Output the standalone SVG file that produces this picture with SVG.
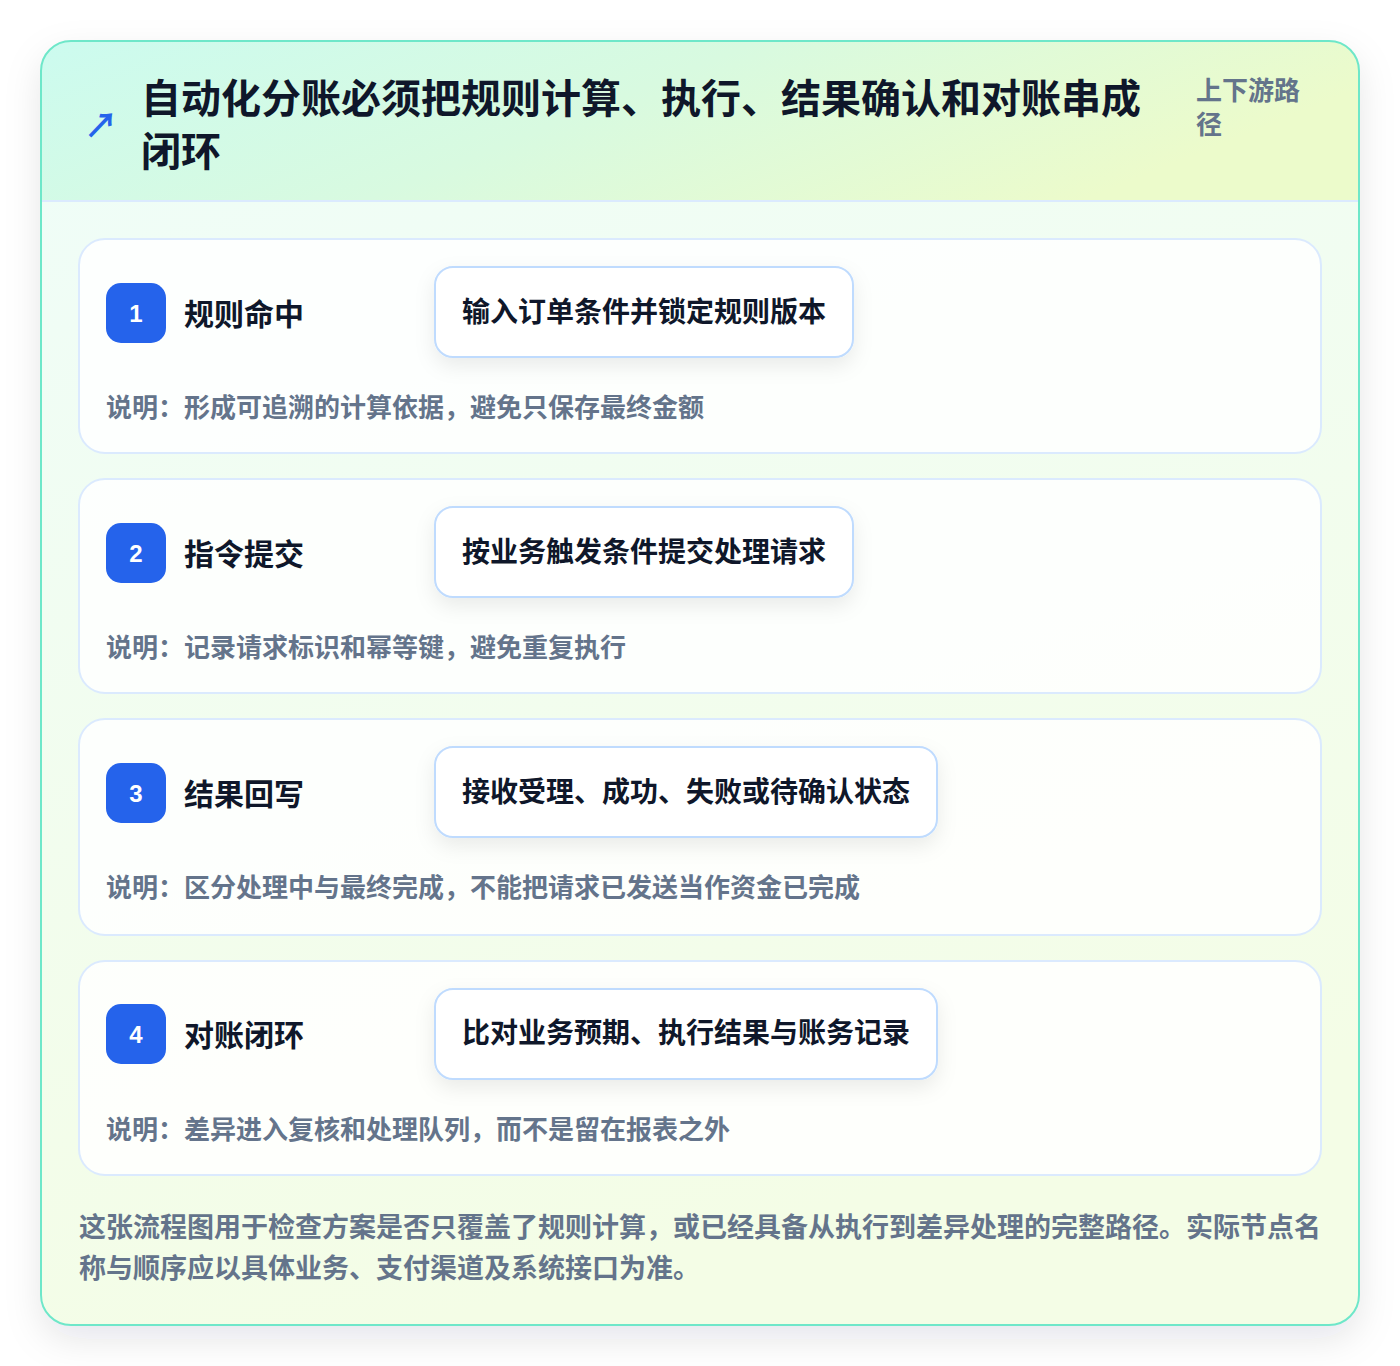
<svg xmlns="http://www.w3.org/2000/svg" width="1400" height="1366" viewBox="0 0 1400 1366">
<defs>
<linearGradient id="hdr" x1="0" y1="0" x2="1" y2="0.3">
<stop offset="0" stop-color="#ccfbef"/>
<stop offset="0.5" stop-color="#d8fae0"/>
<stop offset="1" stop-color="#ecfbcb"/>
</linearGradient>
<linearGradient id="body" x1="0" y1="0" x2="0.3" y2="1">
<stop offset="0" stop-color="#effdf9"/>
<stop offset="1" stop-color="#f4fde6"/>
</linearGradient>
<clipPath id="cardclip"><rect x="41" y="41" width="1318" height="1284" rx="30"/></clipPath>
<filter id="outerSh" x="-10%" y="-10%" width="120%" height="120%">
<feDropShadow dx="0" dy="14" stdDeviation="18" flood-color="#0f172a" flood-opacity="0.10"/>
</filter>
<filter id="boxSh" x="-20%" y="-40%" width="140%" height="200%">
<feDropShadow dx="0" dy="8" stdDeviation="10" flood-color="#0f172a" flood-opacity="0.08"/>
</filter>
<style>
.t{font-family:"Noto Sans CJK SC","Noto Sans",sans-serif;font-weight:700}
.title{font-size:40px;fill:#0f172a}
.sub{font-size:26px;fill:#64748b}
.card{fill:#ffffff;fill-opacity:0.85;stroke:#dbeafe;stroke-width:2}
.badge{fill:#2563eb}
.num{font-family:"Liberation Sans","Noto Sans",sans-serif;font-weight:700;font-size:24px;fill:#ffffff}
.lbl{font-size:30px;fill:#0f172a}
.box{fill:#ffffff;stroke:#bfdbfe;stroke-width:2}
.boxt{font-size:28px;fill:#0f172a}
.desc{font-size:26px;fill:#64748b}
.foot{font-size:27px;fill:#64748b}
</style>
</defs>
<rect width="1400" height="1366" fill="#ffffff"/>
<g id="frame">
<rect x="41" y="41" width="1318" height="1284" rx="30" fill="url(#body)" filter="url(#outerSh)"/>
<g clip-path="url(#cardclip)">
<rect x="41" y="41" width="1318" height="160" fill="url(#hdr)"/>
<line x1="41" y1="201" x2="1359" y2="201" stroke="#dbeafe" stroke-width="2"/>
</g>
<rect x="41" y="41" width="1318" height="1284" rx="30" fill="none" stroke="#6ee7c9" stroke-width="2"/>
</g>
<g id="header">
<text class="t" x="101" y="123" font-size="34" fill="#2563eb" text-anchor="middle" dominant-baseline="central">↗</text>
<text class="t title" x="141" y="96" dominant-baseline="central">自动化分账必须把规则计算、执行、结果确认和对账串成</text>
<text class="t title" x="141" y="149" dominant-baseline="central">闭环</text>
<text class="t sub" x="1196" y="88" dominant-baseline="central">上下游路</text>
<text class="t sub" x="1196" y="122" dominant-baseline="central">径</text>
</g>
<g id="connectors"></g>
<g id="step1">
<rect class="card" x="79" y="239" width="1242" height="214" rx="26"/>
<rect class="badge" x="106" y="283" width="60" height="60" rx="15"/>
<text class="num" x="136" y="313" text-anchor="middle" dominant-baseline="central">1</text>
<text class="t lbl" x="184" y="312" dominant-baseline="central">规则命中</text>
<rect class="box" x="435" y="267" width="418" height="90" rx="18" filter="url(#boxSh)"/>
<text class="t boxt" x="644" y="310" text-anchor="middle" dominant-baseline="central">输入订单条件并锁定规则版本</text>
<text class="t desc" x="106" y="405" dominant-baseline="central">说明：形成可追溯的计算依据，避免只保存最终金额</text>
</g>
<g id="step2">
<rect class="card" x="79" y="479" width="1242" height="214" rx="26"/>
<rect class="badge" x="106" y="523" width="60" height="60" rx="15"/>
<text class="num" x="136" y="553" text-anchor="middle" dominant-baseline="central">2</text>
<text class="t lbl" x="184" y="552" dominant-baseline="central">指令提交</text>
<rect class="box" x="435" y="507" width="418" height="90" rx="18" filter="url(#boxSh)"/>
<text class="t boxt" x="644" y="550" text-anchor="middle" dominant-baseline="central">按业务触发条件提交处理请求</text>
<text class="t desc" x="106" y="645" dominant-baseline="central">说明：记录请求标识和幂等键，避免重复执行</text>
</g>
<g id="step3">
<rect class="card" x="79" y="719" width="1242" height="216" rx="26"/>
<rect class="badge" x="106" y="763" width="60" height="60" rx="15"/>
<text class="num" x="136" y="793" text-anchor="middle" dominant-baseline="central">3</text>
<text class="t lbl" x="184" y="792" dominant-baseline="central">结果回写</text>
<rect class="box" x="435" y="747" width="502" height="90" rx="18" filter="url(#boxSh)"/>
<text class="t boxt" x="686" y="790" text-anchor="middle" dominant-baseline="central">接收受理、成功、失败或待确认状态</text>
<text class="t desc" x="106" y="885" dominant-baseline="central">说明：区分处理中与最终完成，不能把请求已发送当作资金已完成</text>
</g>
<g id="step4">
<rect class="card" x="79" y="961" width="1242" height="214" rx="26"/>
<rect class="badge" x="106" y="1004" width="60" height="60" rx="15"/>
<text class="num" x="136" y="1034" text-anchor="middle" dominant-baseline="central">4</text>
<text class="t lbl" x="184" y="1033" dominant-baseline="central">对账闭环</text>
<rect class="box" x="435" y="989" width="502" height="90" rx="18" filter="url(#boxSh)"/>
<text class="t boxt" x="686" y="1031" text-anchor="middle" dominant-baseline="central">比对业务预期、执行结果与账务记录</text>
<text class="t desc" x="106" y="1127" dominant-baseline="central">说明：差异进入复核和处理队列，而不是留在报表之外</text>
</g>
<g id="footer">
<text class="t foot" x="79" y="1225" dominant-baseline="central">这张流程图用于检查方案是否只覆盖了规则计算，或已经具备从执行到差异处理的完整路径。实际节点名</text>
<text class="t foot" x="79" y="1266" dominant-baseline="central">称与顺序应以具体业务、支付渠道及系统接口为准。</text>
</g>
</svg>
